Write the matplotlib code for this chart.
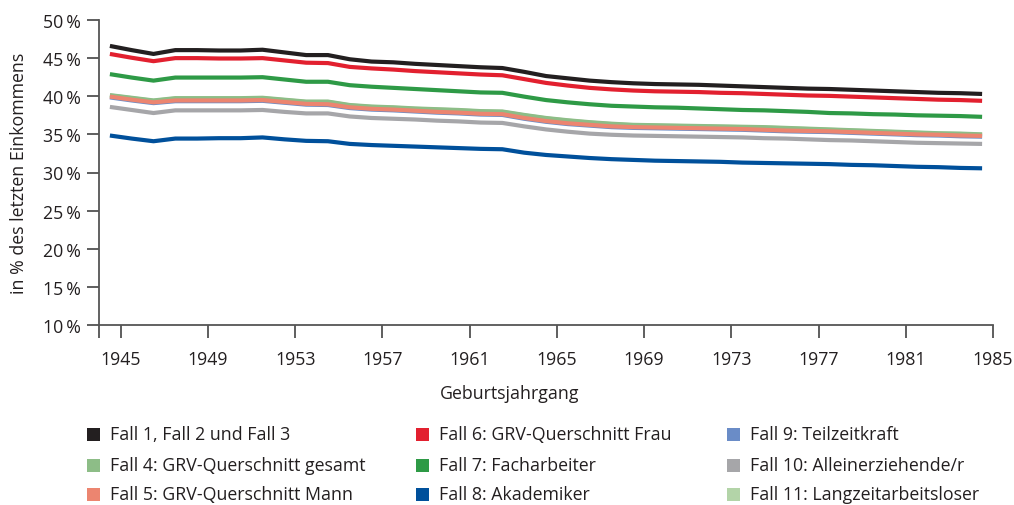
import numpy as np
import matplotlib
matplotlib.use("Agg")
import matplotlib.pyplot as plt
from matplotlib.patches import Rectangle

plt.rcParams['font.family'] = ['Open Sans', 'DejaVu Sans']

# Geburtsjahrgänge (categories)
years = np.arange(1945, 1986)

fall_1_2_3 = [46.6, 46.05, 45.55, 46.05, 46.05, 46.0, 46.0, 46.1, 45.75, 45.4, 45.4, 44.85, 44.55, 44.45,
              44.25, 44.1, 43.95, 43.8, 43.7, 43.2, 42.65, 42.35, 42.05, 41.85, 41.7, 41.6, 41.55, 41.5,
              41.4, 41.3, 41.2, 41.1, 41.0, 40.95, 40.85, 40.75, 40.65, 40.55, 40.45, 40.4, 40.3]
fall_6 = [45.55, 45.05, 44.6, 45.0, 45.0, 44.95, 44.95, 45.0, 44.7, 44.4, 44.35, 43.85, 43.65, 43.5,
          43.3, 43.15, 43.0, 42.85, 42.75, 42.25, 41.75, 41.4, 41.1, 40.9, 40.75, 40.65, 40.6, 40.55,
          40.45, 40.4, 40.3, 40.2, 40.1, 40.05, 39.95, 39.85, 39.75, 39.65, 39.55, 39.5, 39.4]
fall_7 = [42.9, 42.45, 42.05, 42.45, 42.45, 42.45, 42.45, 42.5, 42.2, 41.9, 41.9, 41.45, 41.25, 41.1,
          40.95, 40.8, 40.65, 40.5, 40.45, 39.95, 39.5, 39.2, 38.95, 38.75, 38.65, 38.55, 38.5, 38.4,
          38.3, 38.2, 38.15, 38.05, 37.95, 37.8, 37.75, 37.65, 37.6, 37.5, 37.45, 37.4, 37.3]
fall_4 = [40.15, 39.8, 39.45, 39.75, 39.75, 39.75, 39.75, 39.8, 39.55, 39.3, 39.3, 38.85, 38.65, 38.55,
          38.4, 38.3, 38.2, 38.05, 38.0, 37.55, 37.15, 36.85, 36.6, 36.4, 36.25, 36.2, 36.15, 36.1,
          36.05, 36.0, 35.95, 35.85, 35.75, 35.65, 35.55, 35.45, 35.35, 35.25, 35.15, 35.1, 35.0]
fall_11 = [40.1, 39.75, 39.4, 39.7, 39.7, 39.7, 39.7, 39.75, 39.5, 39.25, 39.25, 38.8, 38.6, 38.5,
           38.35, 38.25, 38.15, 38.0, 37.95, 37.5, 37.1, 36.8, 36.55, 36.35, 36.2, 36.15, 36.1, 36.05,
           36.0, 35.95, 35.9, 35.8, 35.7, 35.6, 35.5, 35.4, 35.3, 35.2, 35.1, 35.05, 34.95]
fall_5 = [39.95, 39.55, 39.2, 39.45, 39.45, 39.45, 39.45, 39.5, 39.25, 39.0, 38.95, 38.55, 38.35, 38.25,
          38.1, 37.95, 37.85, 37.7, 37.65, 37.15, 36.75, 36.45, 36.25, 36.05, 35.95, 35.9, 35.85, 35.8,
          35.75, 35.7, 35.6, 35.5, 35.45, 35.4, 35.3, 35.2, 35.1, 35.0, 34.95, 34.85, 34.8]
fall_9 = [39.85, 39.45, 39.1, 39.35, 39.35, 39.35, 39.35, 39.4, 39.15, 38.9, 38.85, 38.45, 38.25, 38.15,
          38.0, 37.85, 37.75, 37.6, 37.55, 37.05, 36.65, 36.35, 36.15, 35.95, 35.85, 35.8, 35.75, 35.7,
          35.65, 35.6, 35.5, 35.4, 35.35, 35.3, 35.2, 35.1, 35.0, 34.9, 34.85, 34.75, 34.7]
fall_10 = [38.6, 38.2, 37.8, 38.15, 38.15, 38.15, 38.15, 38.2, 37.95, 37.75, 37.75, 37.35, 37.15, 37.05,
           36.95, 36.8, 36.7, 36.55, 36.5, 36.05, 35.65, 35.35, 35.1, 34.95, 34.85, 34.8, 34.75, 34.7,
           34.65, 34.6, 34.5, 34.45, 34.35, 34.25, 34.2, 34.1, 34.0, 33.9, 33.85, 33.8, 33.75]
fall_8 = [34.85, 34.45, 34.1, 34.45, 34.45, 34.5, 34.5, 34.6, 34.35, 34.15, 34.1, 33.75, 33.6, 33.5,
          33.4, 33.3, 33.2, 33.1, 33.05, 32.6, 32.3, 32.1, 31.9, 31.75, 31.65, 31.55, 31.5, 31.45,
          31.4, 31.3, 31.25, 31.2, 31.15, 31.1, 31.0, 30.95, 30.85, 30.75, 30.7, 30.6, 30.55]

labels = ["Fall 1, Fall 2 und Fall 3", "Fall 4: GRV-Querschnitt gesamt", "Fall 5: GRV-Querschnitt Mann",
          "Fall 6: GRV-Querschnitt Frau", "Fall 7: Facharbeiter", "Fall 8: Akademiker",
          "Fall 9: Teilzeitkraft", "Fall 10: Alleinerziehende/r", "Fall 11: Langzeitarbeitsloser"]
series = [fall_1_2_3, fall_4, fall_5, fall_6, fall_7, fall_8, fall_9, fall_10, fall_11]
colors = ["#231f20", "#8dbd87", "#ec8570", "#e2202f", "#2e9a46", "#00509b", "#6a8cc7", "#a6a6a9", "#b3d4a8"]
zorders = [10, 6, 8, 9, 9, 9, 7, 9, 5]

yticks = [10, 15, 20, 25, 30, 35, 40, 45, 50]
xtick_years = [1945, 1949, 1953, 1957, 1961, 1965, 1969, 1973, 1977, 1981, 1985]

fig = plt.figure(figsize=(10.14, 5.06), dpi=100)
ax = fig.add_axes([99 / 1014, 1 - 326 / 506, (993 - 99) / 1014, (326 - 21) / 506])

xpos = years - 0.5  # categories centred between boundary ticks
for vals, c, z in zip(series, colors, zorders):
    ax.plot(xpos, vals, color=c, lw=3.0, zorder=z, solid_capstyle='butt', solid_joinstyle='round')

ax.set_ylim(10, 50)
ax.set_xlim(years[0] - 1, years[-1])
ax.set_yticks(yticks)
ax.set_yticklabels([f"{v}\u2009%" for v in yticks])
ax.set_xticks([years[0] - 1] + xtick_years)
ax.set_xticklabels([""] + [str(y) for y in xtick_years])

for s in ['top', 'right']:
    ax.spines[s].set_visible(False)
for s in ['left', 'bottom']:
    ax.spines[s].set_color('#555555')
    ax.spines[s].set_linewidth(1.3)
ax.tick_params(axis='both', direction='out', length=9, width=1.1, color='#333333',
               labelsize=12.8, labelcolor='#231f20')
ax.tick_params(axis='y', pad=4)
ax.tick_params(axis='x', pad=9)

ax.set_ylabel("in % des letzten Einkommens", fontsize=12.8, color='#231f20', labelpad=11)
fig.text(510 / 1014, 1 - 394 / 506, "Geburtsjahrgang", ha='center', va='center',
         fontsize=12.8, color='#231f20')

# Legend (3 columns x 3 rows)
col_x = [87, 416, 727]
row_y = [435, 466, 495]
sq = 13
for i, (lab, c) in enumerate(zip(labels, colors)):
    col, row = divmod(i, 3)
    x0 = col_x[col]
    yc = row_y[row]
    fig.add_artist(Rectangle((x0 / 1014, 1 - (yc + sq / 2) / 506), sq / 1014, sq / 506,
                             transform=fig.transFigure, facecolor=c, edgecolor='none'))
    fig.text((x0 + sq + 10) / 1014, 1 - yc / 506, lab, ha='left', va='center',
             fontsize=12.8, color='#231f20')

fig.savefig("out.png", dpi=100)
